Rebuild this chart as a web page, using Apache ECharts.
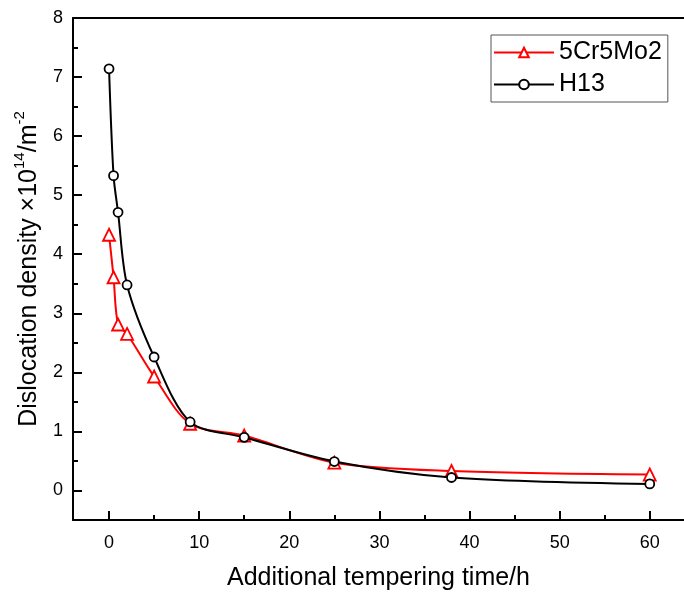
<!DOCTYPE html>
<html>
<head>
<meta charset="utf-8">
<script src="https://cdn.jsdelivr.net/npm/echarts@6/dist/echarts.min.js"></script>
<style>
  html, body { margin: 0; padding: 0; background: #fff; }
  #chart { width: 684px; height: 592px; }
</style>
</head>
<body>
<div id="chart"></div>
<script>
// tempering time (h)
const times = [0, 0.5, 1, 2, 5, 9, 15, 25, 38, 60]
// dislocation density x10^14 /m^-2
const crMo = [4.33, 3.61, 2.81, 2.65, 1.93, 1.13, 0.93, 0.47, 0.33, 0.27]
const h13 = [7.14, 5.33, 4.71, 3.48, 2.26, 1.16, 0.9, 0.49, 0.22, 0.11]
const seriesNames = ['5Cr5Mo2', 'H13']
const xMajor = [0, 10, 20, 30, 40, 50, 60]
const xMinor = [5, 15, 25, 35, 45, 55]
const yMajor = [0, 1, 2, 3, 4, 5, 6, 7, 8]
const yMinor = [-0.5, 0.5, 1.5, 2.5, 3.5, 4.5, 5.5, 6.5, 7.5]

const font = 'Liberation Sans, Arial, sans-serif'
const myChart = echarts.init(document.getElementById('chart'))

const pair = vals => times.map((t, i) => [t, vals[i]])

const xRange = { min: -4, max: 63.8 }
const yRange = { min: -0.5, max: 8 }

// bare axis used for extra tick sets / frame
const bareX = (pos, ticks, len, showLine) => ({
  type: 'value', position: pos, ...xRange,
  splitLine: { show: false },
  axisLabel: { show: false },
  axisLine: { show: showLine, onZero: false, lineStyle: { color: '#000', width: 2 } },
  axisTick: { show: ticks.length > 0, inside: true, length: len, lineStyle: { color: '#000', width: 2 }, customValues: ticks }
})
const bareY = (ticks, len) => ({
  type: 'value', position: 'left', ...yRange,
  splitLine: { show: false },
  axisLabel: { show: false },
  axisLine: { show: false, onZero: false },
  axisTick: { inside: true, length: len, lineStyle: { color: '#000', width: 2 }, customValues: ticks }
})

const option = {
  backgroundColor: '#fff',
  animation: false,
  grid: { left: 73, top: 18, bottom: 72, right: 0, outerBoundsMode: 'none' },
  legend: {
    data: seriesNames,
    orient: 'vertical',
    left: 491,
    top: 35,
    borderColor: '#555',
    borderWidth: 1,
    padding: [5, 6, 5, 2],
    itemWidth: 60,
    itemHeight: 12,
    itemGap: 7,
    textStyle: { fontFamily: font, fontSize: 25, color: '#000' }
  },
  xAxis: [
    {
      type: 'value',
      position: 'bottom',
      ...xRange,
      name: 'Additional tempering time/h',
      nameLocation: 'middle',
      nameGap: 46,
      nameTextStyle: { fontFamily: font, fontSize: 25, color: '#000' },
      splitLine: { show: false },
      axisLine: { onZero: false, lineStyle: { color: '#000', width: 2 } },
      axisTick: { inside: true, length: 9, lineStyle: { width: 2 }, customValues: xMajor },
      axisLabel: { fontFamily: font, fontSize: 18, color: '#000', margin: 14, customValues: xMajor }
    },
    bareX('bottom', xMinor, 5, false),
    bareX('top', [], 0, true)
  ],
  yAxis: [
    {
      type: 'value',
      position: 'left',
      ...yRange,
      name: '{t|Dislocation density ×10}{s|14}{t|/m}{s|-2}',
      nameLocation: 'middle',
      nameRotate: 90,
      nameGap: 28,
      nameTextStyle: {
        rich: {
          t: { fontFamily: font, fontSize: 25, color: '#000', lineHeight: 30, verticalAlign: 'bottom' },
          s: { fontFamily: font, fontSize: 15, color: '#000', lineHeight: 30, verticalAlign: 'top' }
        }
      },
      splitLine: { show: false },
      axisLine: { onZero: false, lineStyle: { color: '#000', width: 2 } },
      axisTick: { inside: true, length: 9, lineStyle: { width: 2 }, customValues: yMajor },
      axisLabel: { fontFamily: font, fontSize: 18, color: '#000', margin: 10, customValues: yMajor }
    },
    bareY(yMinor, 5)
  ],
  series: [
    {
      name: seriesNames[0],
      type: 'line',
      data: pair(crMo),
      smooth: 0.3,
      symbol: 'triangle',
      symbolSize: 12,
      color: '#ff0000',
      lineStyle: { width: 2, color: '#ff0000' },
      itemStyle: { color: '#fff', borderColor: '#ff0000', borderWidth: 1.8 },
      z: 2
    },
    {
      name: seriesNames[1],
      type: 'line',
      data: pair(h13),
      smooth: 0.3,
      symbol: 'circle',
      symbolSize: 9,
      color: '#000',
      lineStyle: { width: 2, color: '#000' },
      itemStyle: { color: '#fff', borderColor: '#000', borderWidth: 1.8 },
      z: 3
    }
  ]
}

myChart.setOption(option)
</script>
</body>
</html>
